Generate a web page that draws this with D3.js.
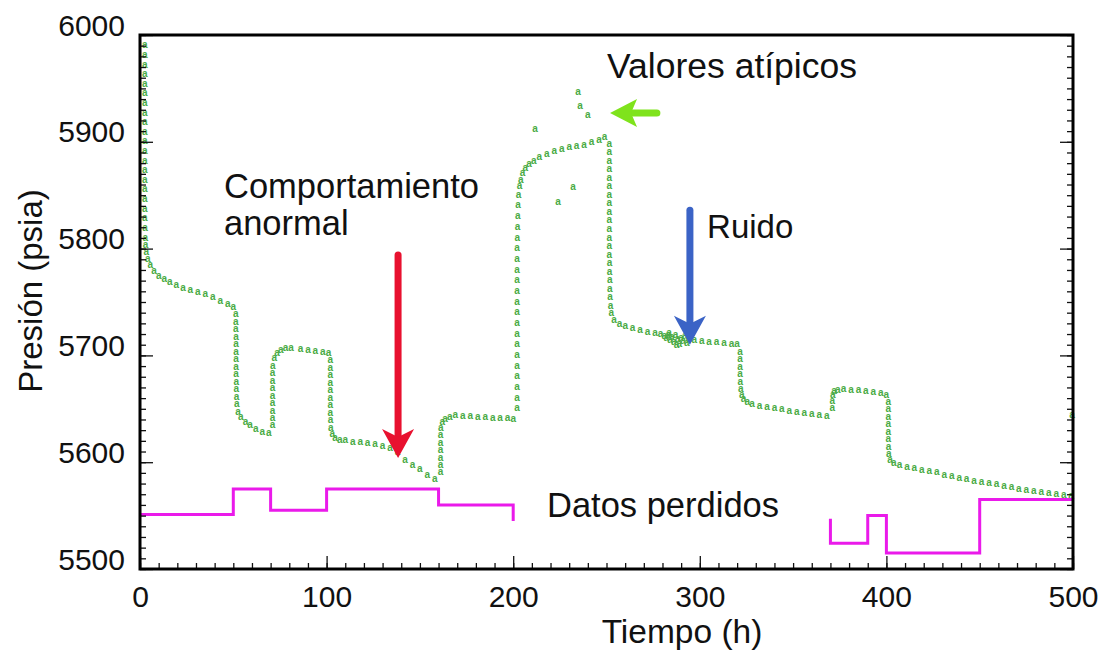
<!DOCTYPE html>
<html>
<head>
<meta charset="utf-8">
<script src="https://cdn.jsdelivr.net/npm/d3@7"></script>
<style>
  html, body { margin: 0; padding: 0; background: #ffffff; }
  svg { display: block; }
  text { font-family: "Liberation Sans", Arial, sans-serif; }
</style>
</head>
<body>
<svg id="chart" width="1109" height="654"></svg>
<script>
// ---------------- DATA ----------------
const timeTicks = [0, 100, 200, 300, 400, 500];
const pressureTicks = [5500, 5600, 5700, 5800, 5900, 6000];

// Pressure record [tiempo (h), presión (psia)], per flow period
const period1 = [
  [2.6,5990],[2.6,5981],[2.6,5972],[2.6,5963],[2.6,5954],[2.6,5945],[2.6,5936],[2.6,5927],
  [2.6,5918],[2.6,5909],[2.6,5900],[2.6,5891],[2.6,5882],[2.6,5873],[2.6,5864],[2.6,5855],
  [2.6,5846],[2.6,5837],[2.6,5828],[2.7,5819],[2.8,5810],[3.0,5803],[3.4,5796],[4.2,5790],
  [5.5,5784],[7.5,5779],[10,5774],[13,5771],[16,5768],[19.5,5766],[23,5763],[27,5761],
  [31,5759],[35,5757],[39,5754],[43,5751],[47,5748],[50,5745]
];
const period2 = [
  [51.3,5738],[51.3,5731],[51.3,5724],[51.4,5717],[51.4,5710],[51.4,5703],[51.5,5696],
  [51.5,5689],[51.5,5682],[51.6,5675],[51.6,5668],[51.7,5661],[51.8,5654],[52.5,5647],
  [54,5642],[56.5,5637],[59,5634],[62,5631],[65.5,5628],[69,5627]
];
const period3 = [
  [71,5634],[71,5641],[71,5648],[71,5655],[71,5662],[71,5669],[71,5676],[71,5683],[71.2,5690],
  [72,5697],[73.5,5702],[75.5,5705],[78,5707],[81,5707],[86,5706],[90,5705],[94,5704],
  [98,5703],[101,5702]
];
const period4 = [
  [102,5695],[102,5688],[102,5681],[102,5674],[102,5667],[102,5660],[102,5653],[102,5646],
  [102.1,5639],[102.3,5632],[103,5626],[104.5,5622],[107,5620],[110,5620],[114,5619],
  [118,5619],[122,5618],[126,5617],[130,5615],[134,5613],[138,5609],[142,5602],[146,5597],
  [150,5593],[154,5588],[158,5584]
];
const period5 = [
  [161,5590],[161,5597],[161,5604],[161,5611],[161,5618],[161,5625],[161.2,5632],[162,5637],
  [163.5,5640],[166,5642],[169,5644],[173,5643],[177,5643],[181,5642],[185,5642],[189,5641],
  [193,5641],[197,5641],[200,5640]
];
const period6 = [
  [202,5650],[202,5660],[202,5670],[202,5680],[202,5690],[202,5700],[202,5710],[202,5720],
  [202,5730],[202,5740],[202,5750],[202,5760],[202,5770],[202,5780],[202.1,5790],[202.1,5800],
  [202.2,5810],[202.3,5820],[202.4,5830],[202.6,5840],[202.9,5850],[203.4,5858],[204,5864],
  [205,5870],[206.5,5875],[208.5,5879],[211,5882],[214,5885],[218,5888],[222,5891],[226,5893],
  [230,5895],[234,5896],[238,5897],[242,5899],[246,5901],[249,5904]
];
const period7 = [
  [251.5,5898],[251.5,5890],[251.5,5882],[251.5,5874],[251.5,5866],[251.5,5858],[251.5,5850],
  [251.5,5842],[251.5,5834],[251.5,5826],[251.5,5818],[251.5,5810],[251.5,5802],[251.5,5794],
  [251.6,5786],[251.6,5778],[251.7,5770],[251.8,5762],[251.9,5754],[252.1,5746],[252.5,5739],
  [254,5733],[257,5729],[260,5727],[264,5725],[268,5723],[272,5722],[276,5721],[279,5720],
  [281,5718],[282,5716],[283,5719],[283.5,5721],[284,5714],[285,5717],[286,5712],[287,5719],
  [287.5,5709],[288,5715],[289,5710],[290,5716],[291,5713],[292,5718],[293,5711],[294,5715],
  [297,5714],[301,5713],[305,5712],[309,5712],[313,5711],[317,5710],[320,5710]
];
const period8 = [
  [321.5,5703],[321.5,5696],[321.5,5689],[321.6,5682],[321.7,5675],[321.9,5668],[322.5,5663],
  [323.5,5659],[325.5,5656],[328,5654],[332,5652],[336,5651],[340,5650],[344,5649],[348,5648],
  [352,5647],[356,5646],[360,5645],[364,5644],[368,5643]
];
const period9 = [
  [371,5650],[371,5657],[371.2,5663],[372,5666],[374,5667],[377,5668],[381,5667],[385,5667],
  [389,5666],[393,5665],[397,5664],[400,5663]
];
const period10 = [
  [401,5656],[401,5649],[401,5642],[401,5635],[401,5628],[401,5621],[401.1,5614],[401.3,5607],
  [402,5602],[404,5599],[407,5597],[411,5595],[415,5594],[419,5592],[423,5591],[427,5590],
  [431,5588],[435,5587],[439,5585],[443,5584],[447,5582],[451,5581],[455,5580],[459,5579],
  [463,5577],[467,5576],[471,5575],[475,5574],[479,5573],[483,5572],[487,5571],[491,5570],
  [495,5569],[499,5568]
];
const outliers = [
  [211.7,5912],[234.7,5946],[235.8,5933],[240,5925],[232,5857],[224,5843],[499.5,5644]
];

// Missing-data indicator (step line)
const missingA = [
  [0,5551],[50,5551],[50,5575],[70,5575],[70,5555],[100,5555],[100,5575],[160,5575],
  [160,5560],[200,5560],[200,5545]
];
const missingB = [
  [370,5547],[370,5524],[390,5524],[390,5550],[400,5550],[400,5515],[450,5515],[450,5565],[500,5565]
];

// Annotations (data coordinates)
const arrowRed   = { t: 138.3, from: 5794, to: 5604 };
const arrowBlue  = { t: 294.7, from: 5836, to: 5710 };
const arrowGreen = { p: 5927, from: 277, to: 251.9 };
const labels = [
  { text: ["Valores atípicos"], t: 250.3, p: 5960, size: 35.5 },
  { text: ["Comportamiento", "anormal"], t: 45, p: 5847.5, size: 34.5 },
  { text: ["Ruido"], t: 303.9, p: 5810, size: 33 },
  { text: ["Datos perdidos"], t: 218.1, p: 5548.7, size: 34.5 }
];

// ---------------- CHART ----------------
const svg = d3.select("#chart");
const x = d3.scaleLinear().domain([0, 500]).range([140, 1073]);
const y = d3.scaleLinear().domain([5500, 6000]).range([569, 35]);

const allPoints = [].concat(period1, period2, period3, period4, period5, period6,
                            period7, period8, period9, period10, outliers);

// markers: small "a" glyphs, as in the original plot
svg.append("g").selectAll("text")
  .data(allPoints).enter().append("text")
  .attr("x", d => x(d[0]))
  .attr("y", d => y(d[1]))
  .attr("dy", "0.26em")
  .attr("text-anchor", "middle")
  .attr("font-size", 10)
  .attr("font-weight", "bold")
  .attr("fill", "#4aab45")
  .text("a");

// missing data lines
const line = d3.line().x(d => x(d[0])).y(d => y(d[1]));
[missingA, missingB].forEach(seg => {
  svg.append("path").attr("d", line(seg))
    .attr("fill", "none").attr("stroke", "#ea1aea").attr("stroke-width", 3);
});

// axes
const minorX = d3.range(0, 501, 10);
const minorY = d3.range(5500, 6001, 10);
svg.append("g").attr("transform", `translate(0,${y(5500)})`)
  .call(d3.axisBottom(x).tickValues(minorX).tickSize(-6).tickFormat(""))
  .call(g => g.select(".domain").remove());
const xAxis = svg.append("g").attr("transform", `translate(0,${y(5500)})`)
  .call(d3.axisBottom(x).tickValues(timeTicks).tickSize(-13).tickPadding(17).tickFormat(d3.format("d")))
  .call(g => g.select(".domain").remove());
xAxis.selectAll("text").attr("font-size", 30).attr("font-family", "Liberation Sans, Arial, sans-serif").attr("fill", "#111");

svg.append("g").attr("transform", `translate(${x(0)},0)`)
  .call(d3.axisLeft(y).tickValues(minorY).tickSize(-6).tickFormat(""))
  .call(g => g.select(".domain").remove());
const yAxis = svg.append("g").attr("transform", `translate(${x(0)},0)`)
  .call(d3.axisLeft(y).tickValues(pressureTicks).tickSize(-13).tickPadding(15).tickFormat(d3.format("d")))
  .call(g => g.select(".domain").remove());
yAxis.selectAll("text").attr("font-size", 30).attr("dy", "0").attr("font-family", "Liberation Sans, Arial, sans-serif").attr("fill", "#111");

svg.append("g").attr("transform", `translate(${x(500)},0)`)
  .call(d3.axisRight(y).tickValues(minorY).tickSize(-6).tickFormat(""))
  .call(g => g.select(".domain").remove());
svg.append("g").attr("transform", `translate(${x(500)},0)`)
  .call(d3.axisRight(y).tickValues(pressureTicks).tickSize(-13).tickFormat(""))
  .call(g => g.select(".domain").remove());
svg.selectAll(".tick line").attr("stroke", "#111").attr("stroke-width", 1.3);

// frame
svg.append("rect")
  .attr("x", x(0)).attr("y", y(6000))
  .attr("width", x(500) - x(0)).attr("height", y(5500) - y(6000))
  .attr("fill", "none").attr("stroke", "#000").attr("stroke-width", 3);

// axis titles
svg.append("text").attr("x", 682).attr("y", 643).attr("text-anchor", "middle")
  .attr("font-size", 33.5).attr("fill", "#111").text("Tiempo (h)");
svg.append("text").attr("transform", "translate(42,291) rotate(-90)").attr("text-anchor", "middle")
  .attr("font-size", 33).attr("fill", "#111").text("Presión (psia)");

// annotation labels
labels.forEach(l => {
  const t = svg.append("text").attr("x", x(l.t)).attr("y", y(l.p))
    .attr("font-size", l.size).attr("fill", "#111");
  l.text.forEach((s, i) => {
    t.append("tspan").attr("x", x(l.t)).attr("dy", i === 0 ? 0 : 37).text(s);
  });
});

// vertical arrows
function vArrow(a, color) {
  const cx = x(a.t), y0 = y(a.from), y1 = y(a.to);
  svg.append("line").attr("x1", cx).attr("x2", cx).attr("y1", y0).attr("y2", y1 - 22)
    .attr("stroke", color).attr("stroke-width", 7).attr("stroke-linecap", "round");
  svg.append("path")
    .attr("d", `M${cx - 16},${y1 - 29} L${cx},${y1 - 21} L${cx + 16},${y1 - 29} L${cx},${y1} Z`)
    .attr("fill", color);
}
vArrow(arrowRed, "#e8112f");
vArrow(arrowBlue, "#3b63c6");

// horizontal arrow (pointing left)
{
  const cy = y(arrowGreen.p), x0 = x(arrowGreen.from), x1 = x(arrowGreen.to);
  svg.append("line").attr("x1", x0).attr("x2", x1 + 20).attr("y1", cy).attr("y2", cy)
    .attr("stroke", "#7fe31c").attr("stroke-width", 7).attr("stroke-linecap", "round");
  svg.append("path")
    .attr("d", `M${x1 + 27},${cy - 14} L${x1 + 21},${cy} L${x1 + 27},${cy + 14} L${x1},${cy} Z`)
    .attr("fill", "#7fe31c");
}
</script>
</body>
</html>
